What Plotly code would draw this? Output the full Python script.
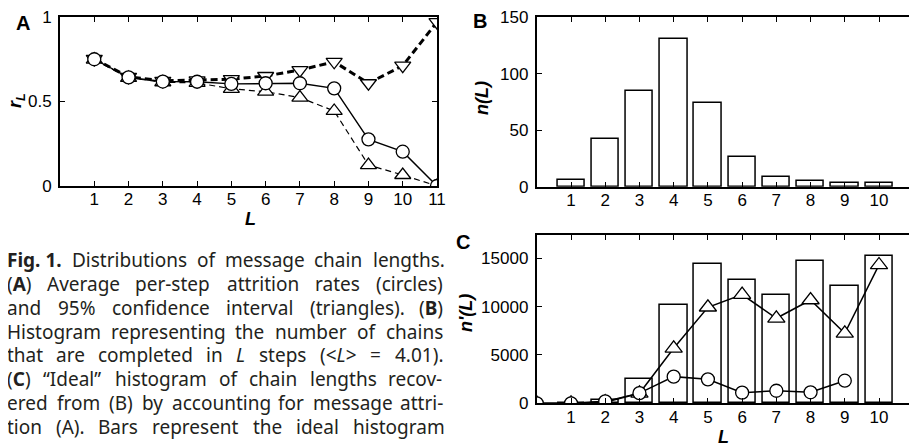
import plotly.graph_objects as go

# ---------------- data ----------------
L_A = [1, 2, 3, 4, 5, 6, 7, 8, 9, 10, 11]
rate_mean = [0.75, 0.643, 0.618, 0.617, 0.604, 0.608, 0.608, 0.578, 0.276, 0.203, 0.0]
rate_upper = [0.752, 0.646, 0.622, 0.625, 0.632, 0.651, 0.686, 0.735, 0.608, 0.712, 0.97]
rate_lower = [0.748, 0.640, 0.614, 0.610, 0.575, 0.558, 0.523, 0.444, 0.124, 0.065, 0.0]

L_B = [1, 2, 3, 4, 5, 6, 7, 8, 9, 10]
n_L = [6, 42, 85, 131, 74, 26, 9, 5, 3, 3]

L_C = [1, 2, 3, 4, 5, 6, 7, 8, 9, 10]
n_ideal = [50, 340, 2480, 10140, 14390, 12760, 11180, 14760, 12140, 15250]
L_C_circ = [0, 1, 2, 3, 4, 5, 6, 7, 8, 9]
n_mean = [0, 0, 200, 1050, 2760, 2480, 1100, 1300, 1140, 2340]
L_C_tri = [0, 1, 2, 3, 4, 5, 6, 7, 8, 9, 10]
n_upper = [0, 0, 120, 1035, 5690, 9940, 11250, 8800, 10690, 7240, 14320]

ticks_A_x = list(range(1, 12))
ticks_A_y = [0, 0.5, 1]
ticks_A_y_text = ["0", "0.5", "1"]
ticks_B_x = list(range(1, 11))
ticks_B_y = [0, 50, 100, 150]
ticks_C_y = [0, 5000, 10000, 15000]
ticks_C_y_text = ["0", "5000", "10000", "15000"]

# caption lines: (html, plain text for width estimate, bold?)
caption_lines = [
    [("<b>Fig. 1.</b>", "Fig. 1.", True), ("Distributions", None, False), ("of", None, False),
     ("message", None, False), ("chain", None, False), ("lengths.", None, False)],
    [("(<b>A</b>)", "(A)", False), ("Average", None, False), ("per-step", None, False),
     ("attrition", None, False), ("rates", None, False), ("(circles)", None, False)],
    [("and", None, False), ("95%", None, False), ("confidence", None, False), ("interval", None, False),
     ("(triangles).", None, False), ("(<b>B</b>)", "(B)", False)],
    [("Histogram", None, False), ("representing", None, False), ("the", None, False),
     ("number", None, False), ("of", None, False), ("chains", None, False)],
    [("that", None, False), ("are", None, False), ("completed", None, False), ("in", None, False),
     ("<i>L</i>", "L", False), ("steps", None, False), ("(&lt;<i>L</i>&gt;", "(<L>", False),
     ("=", None, False), ("4.01).", None, False)],
    [("(<b>C</b>)", "(C)", False), ("“Ideal”", None, False), ("histogram", None, False), ("of", None, False),
     ("chain", None, False), ("lengths", None, False), ("recov-", None, False)],
    [("ered", None, False), ("from", None, False), ("(B)", None, False), ("by", None, False),
     ("accounting", None, False), ("for", None, False), ("message", None, False), ("attri-", None, False)],
    [("tion", None, False), ("(A).", None, False), ("Bars", None, False), ("represent", None, False),
     ("the", None, False), ("ideal", None, False), ("histogram", None, False)],
]

W, H = 917, 444
OFF = 8  # default page margin of the html body


def px(x):
    return (x - OFF) / W


def py(y):
    return 1 - (y - OFF) / H


# approximate advance widths (per 1000 em) of a humanist sans
CW = dict(a=556, b=613, c=480, d=613, e=561, f=336, g=546, h=613, i=258, j=258, k=529, l=258, m=930,
          n=613, o=601, p=613, q=613, r=408, s=477, t=353, u=613, v=500, w=778, x=523, y=500, z=469,
          A=633, B=647, C=631, D=730, F=519, H=738, I=279, L=519)
CW.update({" ": 260, ".": 268, ",": 248, "(": 297, ")": 297, "-": 322, "%": 823, "=": 572, "<": 572,
           ">": 572, "“": 418, "”": 418})
for dgt in "0123456789":
    CW[dgt] = 572


def est_width(txt, bold, size):
    w = sum(CW.get(ch, 560) for ch in txt) * size / 1000.0
    return w * (1.06 if bold else 1.0)


fig = go.Figure()

BLACK = "black"
TICKFONT = dict(family="Liberation Sans", size=17, color=BLACK)

# ---------------- panel A ----------------
fig.add_trace(go.Scatter(
    x=L_A, y=rate_lower, mode="lines+markers", xaxis="x", yaxis="y",
    line=dict(color=BLACK, width=1.2, dash="6px,4px"),
    marker=dict(symbol="triangle-up", size=14, color="white", line=dict(color=BLACK, width=1.3)),
    showlegend=False))
fig.add_trace(go.Scatter(
    x=L_A, y=rate_upper, mode="lines+markers", xaxis="x", yaxis="y",
    line=dict(color=BLACK, width=3, dash="7px,4px"),
    marker=dict(symbol="triangle-down", size=14, color="white", line=dict(color=BLACK, width=1.3)),
    showlegend=False))
fig.add_trace(go.Scatter(
    x=L_A, y=rate_mean, mode="lines+markers", xaxis="x", yaxis="y",
    line=dict(color=BLACK, width=1.4),
    marker=dict(symbol="circle", size=13, color="white", line=dict(color=BLACK, width=1.3)),
    showlegend=False))

# ---------------- panel B ----------------
fig.add_trace(go.Bar(
    x=L_B, y=n_L, xaxis="x2", yaxis="y2", width=0.8,
    marker=dict(color="white", line=dict(color=BLACK, width=1.5)),
    showlegend=False))

# ---------------- panel C ----------------
fig.add_trace(go.Bar(
    x=L_C, y=n_ideal, xaxis="x3", yaxis="y3", width=0.8,
    marker=dict(color="white", line=dict(color=BLACK, width=1.5)),
    showlegend=False))
fig.add_trace(go.Scatter(
    x=L_C_tri, y=n_upper, mode="lines+markers", xaxis="x3", yaxis="y3",
    line=dict(color=BLACK, width=1.5),
    marker=dict(symbol="triangle-up", size=15, color="white", line=dict(color=BLACK, width=1.3)),
    showlegend=False))
fig.add_trace(go.Scatter(
    x=L_C_circ, y=n_mean, mode="lines+markers", xaxis="x3", yaxis="y3",
    line=dict(color=BLACK, width=1.5),
    marker=dict(symbol="circle", size=13, color="white", line=dict(color=BLACK, width=1.3)),
    showlegend=False))

axis_common = dict(showgrid=False, zeroline=False, showline=True, linecolor=BLACK, linewidth=2,
                   ticks="inside", ticklen=5, tickwidth=1.2, tickcolor=BLACK, tickfont=TICKFONT,
                   automargin=False, ticklabeloverflow="allow")

BC_right = (917 - 536.8) / 34.22

fig.update_layout(
    template="none",
    width=W, height=H, margin=dict(l=0, r=0, t=0, b=0, pad=0),
    paper_bgcolor="white", plot_bgcolor="white",
    bargap=0,
    xaxis=dict(domain=[px(60), px(437)], range=[0, 11], tickvals=ticks_A_x, mirror="ticks",
               anchor="y", ticklabelstandoff=-3, **axis_common),
    yaxis=dict(domain=[py(186), py(17)], range=[0, 1], tickvals=ticks_A_y, ticktext=ticks_A_y_text,
               mirror="ticks", anchor="x", ticklabelstandoff=3, **axis_common),
    xaxis2=dict(domain=[px(536.8), px(917)], range=[0, BC_right], tickvals=ticks_B_x, mirror="ticks",
                anchor="y2", ticklabelstandoff=-3, **axis_common),
    yaxis2=dict(domain=[py(186.7), py(17)], range=[0, 150], tickvals=ticks_B_y, anchor="x2",
                ticklabelstandoff=3, **axis_common),
    xaxis3=dict(domain=[px(536.8), px(917)], range=[0, BC_right], tickvals=ticks_B_x, mirror="ticks",
                anchor="y3", ticklabelstandoff=-3, **axis_common),
    yaxis3=dict(domain=[py(403.3), py(235)], range=[0, 17420], tickvals=ticks_C_y,
                ticktext=ticks_C_y_text, anchor="x3", ticklabelstandoff=3, **axis_common),
)

ann = []
LABFONT = dict(family="Liberation Sans", size=20, color=BLACK)
TITFONT = dict(family="Liberation Sans", size=18, color=BLACK)
# panel letters
ann.append(dict(x=px(23), y=py(23), text="<b>A</b>", font=LABFONT))
ann.append(dict(x=px(480), y=py(21.5), text="<b>B</b>", font=LABFONT))
ann.append(dict(x=px(463), y=py(241.5), text="<b>C</b>", font=LABFONT))
# axis titles
ann.append(dict(x=px(17), y=py(101), text="<b><i>r</i></b><sub><b><i>L</i></b></sub>", textangle=-90,
                font=TITFONT, borderpad=0, borderwidth=0))
ann.append(dict(x=px(250), y=py(219), text="<b><i>L</i></b>", font=TITFONT))
ann.append(dict(x=px(482), y=py(98), text="<b><i>n(L)</i></b>", textangle=-90, font=TITFONT))
ann.append(dict(x=px(466), y=py(313), text="<b><i>n'(L)</i></b>", textangle=-90, font=TITFONT))
ann.append(dict(x=px(723), y=py(437), text="<b><i>L</i></b>", font=TITFONT, borderpad=0, borderwidth=0))

CAP_SIZE = 19
CAPFONT = dict(family="Noto Sans", size=CAP_SIZE, color="#231f20")
CAP_LEFT, CAP_RIGHT = 7, 443
for i, line in enumerate(caption_lines):
    yc = 260.2 + 23.8 * i
    widths = [est_width(plain if plain is not None else html, bold, CAP_SIZE) for html, plain, bold in line]
    gap = (CAP_RIGHT - CAP_LEFT - sum(widths)) / (len(line) - 1)
    x = CAP_LEFT
    for (html, plain, bold), w in zip(line, widths):
        ann.append(dict(x=px(x), y=py(yc), text=html, xanchor="left", yanchor="middle",
                        font=CAPFONT, borderpad=0, borderwidth=0))
        x += w + gap

for a in ann:
    a.setdefault("xanchor", "center")
    a.setdefault("yanchor", "middle")
    a.update(xref="paper", yref="paper", showarrow=False)
fig.update_layout(annotations=ann)

fig.write_html("out.html")
